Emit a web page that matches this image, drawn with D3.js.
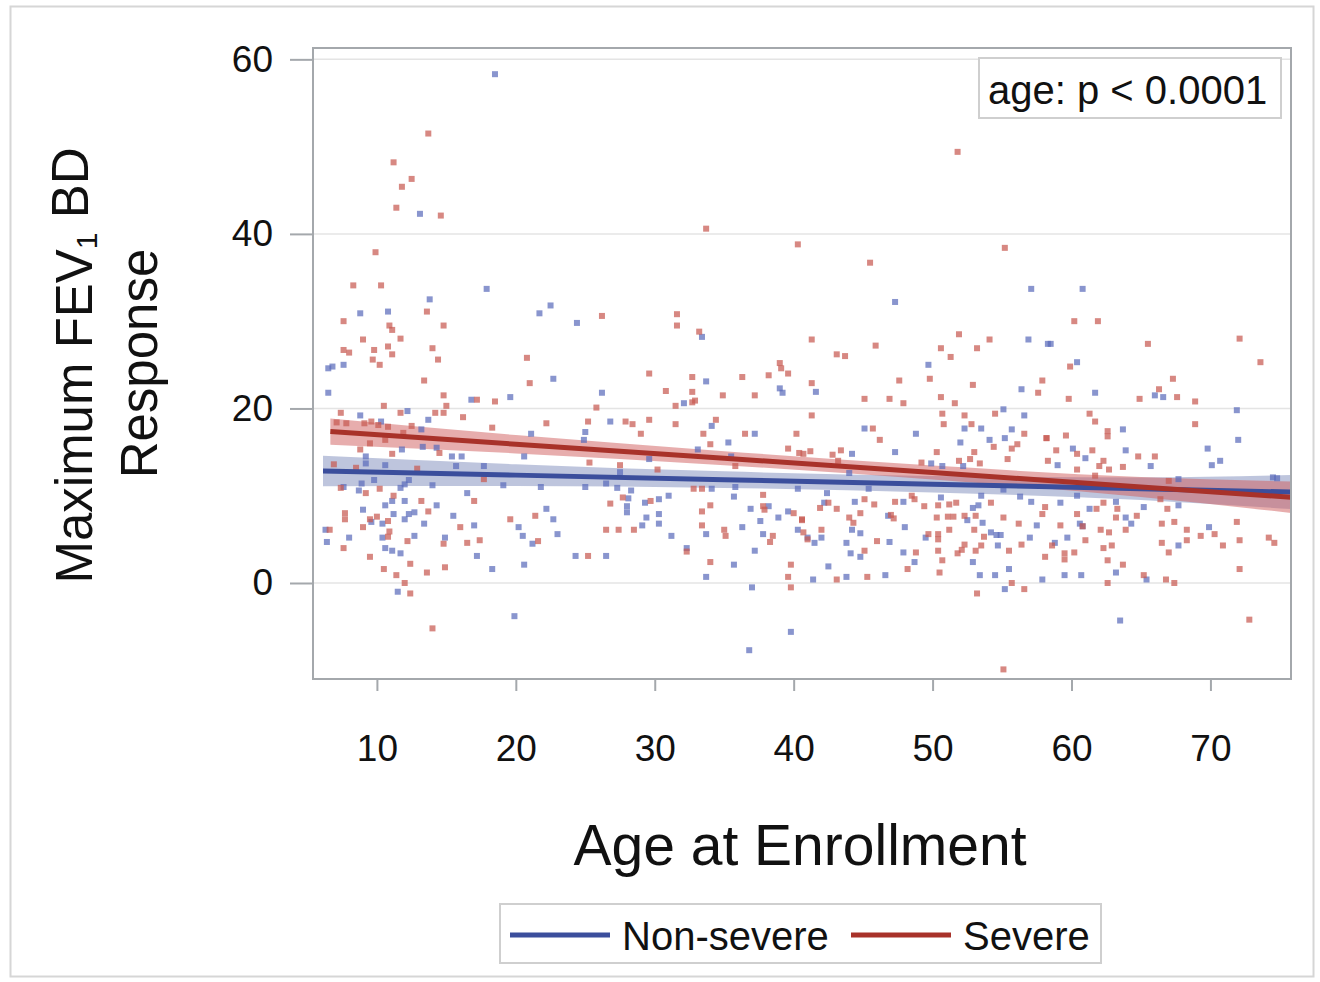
<!DOCTYPE html>
<html>
<head>
<meta charset="utf-8">
<script src="https://cdn.jsdelivr.net/npm/d3@7"></script>
<style>
  body { margin: 0; background: #fff; }
  svg text { font-family: "Liberation Sans", Arial, Helvetica, sans-serif; fill: #111; }
</style>
</head>
<body>
<div id="chart"></div>
<script>
var width  = 1320;
var height = 982;

// Plot area (pixels)
var m = { left: 313, right: 1291, top: 48, bottom: 679 };

// Severe: age at enrollment / max FEV1 BD response
var severeAge = [
  9.9, 8.3, 10.3, 7.6, 10.9, 11.1, 11.7, 9.0, 13.6, 14.8, 7.6, 8.0, 9.8, 10.8, 11.1, 9.7, 10.2, 14.0, 14.4, 13.4,
  14.8, 15.0, 10.5, 7.4, 11.7, 14.2, 14.8, 16.2, 18.5, 17.2, 20.8, 21.0, 22.2, 18.3, 7.1, 7.8, 9.1, 9.6, 10.1, 10.8,
  12.5, 8.8, 9.5, 11.1, 14.5, 11.9, 10.6, 7.4, 9.2, 10.2, 11.2, 13.2, 17.0, 13.7, 7.7, 7.7, 9.0, 9.5, 10.0, 10.8,
  10.9, 10.8, 6.6, 7.6, 9.5, 10.5, 11.4, 12.4, 13.6, 14.9, 14.8, 16.5, 17.4, 16.0, 19.6, 21.4, 21.6, 12.4, 12.0, 12.2,
  17.7, 13.7, 11.2, 12.5, 11.8, 11.4, 14.6, 8.5, 12.9, 6.9, 14.0,
  40.3, 26.2, 31.6, 31.6, 33.2, 29.6, 32.7, 36.3, 38.2, 39.0, 39.1, 39.6, 30.8, 34.9, 37.2, 32.7, 32.7, 32.9, 31.5, 25.8,
  25.2, 27.9, 28.4, 29.6, 31.5, 34.4, 29.0, 33.5, 34.0, 36.5, 40.2, 39.6, 25.3, 27.5, 30.2, 35.8, 40.7, 26.8, 27.7, 29.7,
  32.8, 33.4, 33.4, 34.0, 37.8, 37.8, 37.9, 40.0, 40.6, 26.5, 27.4, 28.5, 33.4, 35.0, 35.1, 38.5, 38.3, 25.2, 34.0, 32.3,
  39.8, 39.6, 39.8, 41.0, 33.7,
  45.5, 55.2, 41.3, 43.1, 43.7, 45.9, 51.9, 54.1, 53.2, 50.6, 51.3, 41.3, 47.6, 49.8, 52.9, 57.9, 57.6, 45.1, 46.9, 47.9,
  50.6, 51.6, 41.3, 50.7, 50.8, 52.3, 52.8, 54.5, 45.7, 46.2, 54.4, 55.7, 56.1, 56.6, 58.2, 55.4, 40.4, 41.2, 42.8, 43.4,
  50.3, 53.0, 51.9, 52.7, 53.4, 43.2, 49.2, 45.1, 45.8, 43.1, 42.5, 41.9, 40.6, 40.7, 44.0, 44.3, 44.8, 47.3, 47.0, 47.2,
  48.5, 48.7, 49.4, 50.3, 50.4, 51.2, 51.7, 51.1, 51.5, 52.3, 53.1, 54.2, 55.1, 56.2, 57.9, 42.0, 45.1, 46.0, 49.7, 50.4,
  50.4, 50.4, 50.7, 51.8, 52.1, 51.2, 53.0, 53.7, 52.3, 53.1, 53.5, 55.5, 56.4, 58.1, 48.8, 48.2, 50.5, 45.3, 43.1, 55.7,
  56.6, 53.2, 51.8, 55.1,
  60.2, 61.9, 72.1, 73.6, 65.5, 59.9, 67.3, 66.3, 59.8, 64.9, 67.6, 68.9, 61.3, 61.7, 68.9, 62.6, 62.6, 58.2, 59.6, 58.9,
  60.4, 61.5, 58.3, 62.3, 60.4, 62.0, 62.7, 63.7, 64.8, 66.0, 61.7, 67.0, 58.1, 61.8, 62.3, 63.3, 63.2, 64.7, 66.4, 66.9,
  60.4, 59.2, 60.8, 62.1, 62.7, 63.9, 66.5, 67.4, 68.3, 69.3, 70.3, 71.9, 72.1, 70.9, 74.2, 74.6, 68.3, 66.5, 67.0, 58.6,
  59.5, 59.5, 61.0, 60.2, 62.3, 62.9, 62.6, 63.7, 72.1, 65.2, 66.8, 67.4, 62.6, 72.8
];
var severeFev = [
  37.9, 34.1, 34.1, 30.0, 29.5, 29.0, 28.0, 27.9, 31.1, 29.5, 26.7, 26.4, 26.7, 27.1, 26.2, 25.6, 25.0, 26.9, 25.6, 23.2,
  21.5, 20.3, 20.3, 19.5, 19.5, 19.5, 19.5, 19.0, 20.8, 21.0, 25.8, 22.9, 18.3, 17.8, 18.4, 18.3, 18.3, 18.5, 18.1, 17.9,
  18.0, 15.3, 16.0, 14.8, 14.9, 17.2, 16.4, 10.9, 10.3, 10.8, 10.0, 9.4, 9.4, 8.2, 8.0, 7.3, 6.4, 7.3, 7.6, 7.1,
  5.9, 5.3, 6.1, 4.0, 3.0, 1.6, 0.9, 2.2, 1.2, 1.8, 4.5, 4.6, 4.9, 6.4, 7.3, 7.7, 4.8, -1.2, 0.0, 4.8,
  11.9, 51.5, 48.2, 46.3, 45.4, 43.0, 42.1, 13.2, 13.1, 13.6, -5.2,
  38.8, 30.6, 30.8, 29.5, 28.8, 24.0, 23.6, 23.6, 23.8, 25.2, 24.6, 24.0, 22.0, 21.5, 21.5, 21.9, 20.7, 20.9, 20.3, 20.1,
  18.5, 18.5, 18.2, 18.7, 18.2, 18.7, 17.1, 17.1, 15.9, 17.1, 17.1, 15.4, 13.8, 13.5, 13.0, 13.4, 14.8, 9.1, 9.8, 9.4,
  10.8, 10.8, 8.2, 8.9, 10.1, 8.8, 8.4, 8.0, 7.2, 6.1, 6.1, 6.1, 6.6, 6.1, 5.4, 5.4, 4.7, 3.1, 2.4, 3.6,
  2.1, 0.7, -0.5, 5.0, 40.6,
  36.7, 38.4, 27.9, 26.2, 26.0, 27.2, 28.5, 27.9, 26.9, 26.9, 25.9, 22.9, 23.2, 23.4, 22.7, 23.2, 21.8, 21.1, 21.1, 20.6,
  21.3, 20.6, 19.2, 19.4, 18.2, 19.2, 18.2, 19.4, 17.7, 16.4, 15.6, 15.4, 15.9, 17.1, 16.6, 14.2, 14.9, 15.1, 14.7, 15.2,
  15.0, 15.0, 14.0, 14.2, 13.7, 14.0, 13.8, 9.6, 9.0, 8.5, 9.2, 8.6, 7.3, 5.8, 7.5, 6.9, 8.0, 9.3, 7.8, 7.4,
  10.0, 9.6, 8.8, 7.5, 8.9, 9.0, 9.2, 7.6, 7.6, 7.7, 7.7, 9.2, 7.5, 6.8, 7.9, 6.1, 3.7, 4.8, 5.6, 5.6,
  5.0, 3.7, 2.6, 3.4, 3.8, 6.1, 6.1, 5.3, 4.4, 3.7, 4.3, 3.7, 4.4, 3.0, 3.5, 1.6, 1.2, 0.7, 0.4, 0.0,
  -0.7, -1.2, 49.4, -9.9,
  30.0, 30.0, 28.0, 25.3, 27.4, 24.8, 23.4, 22.2, 21.1, 21.1, 21.3, 20.8, 19.4, 18.5, 18.2, 17.4, 16.8, 16.6, 16.9, 15.2,
  14.8, 15.2, 14.0, 14.0, 13.0, 13.4, 13.0, 13.3, 14.5, 14.5, 12.3, 11.7, 8.7, 8.5, 9.2, 8.5, 7.5, 7.7, 9.6, 8.5,
  7.9, 6.6, 6.5, 6.1, 5.8, 6.1, 6.8, 7.0, 6.1, 5.4, 5.6, 7.0, 4.9, 4.3, 5.2, 4.6, 4.9, 4.6, 3.5, 4.3,
  3.4, 2.7, 4.9, 3.5, 4.0, 4.3, 2.6, 2.1, 1.6, 0.9, 0.4, 0.0, 0.0, -4.2
];

// Non-severe
var nonSevereAge = [
  6.5, 6.8, 7.6, 6.5, 8.8, 10.8, 13.8, 17.9, 21.7, 22.5, 22.7, 19.6, 16.8, 8.8, 10.3, 12.2, 13.7, 13.2, 11.8, 13.3,
  14.3, 15.4, 16.1, 15.7, 9.2, 9.2, 10.6, 9.8, 12.3, 8.9, 7.6, 8.7, 11.7, 12.0, 14.0, 17.7, 19.1, 20.6, 21.1, 21.8,
  16.5, 10.6, 11.1, 12.0, 11.2, 12.0, 12.3, 12.7, 9.0, 14.3, 13.4, 15.5, 17.0, 10.4, 9.6, 6.3, 6.4, 8.0, 10.4, 12.7,
  14.9, 10.6, 11.1, 11.7, 17.2, 18.3, 20.6, 20.2, 20.5, 21.2, 22.2, 22.7, 23.0, 11.5, 18.5, 13.1, 19.9, 36.8, 39.8, 63.5,
  24.4, 26.2, 33.4, 33.7, 39.0, 39.2, 32.1, 26.8, 25.0, 24.9, 34.1, 35.3, 37.2, 33.1, 29.6, 27.5, 35.5, 25.0, 26.5, 27.3,
  28.3, 28.1, 28.0, 28.0, 29.3, 30.3, 31.0, 34.1, 35.8, 35.7, 38.2, 36.9, 29.4, 29.1, 30.3, 30.3, 31.2, 33.7, 36.3, 37.6,
  37.8, 38.9, 39.6, 40.3, 40.3, 24.3, 26.5, 32.3, 37.2, 35.7, 33.7, 37.0,
  47.3, 57.1, 56.9, 58.3, 49.7, 41.6, 56.4, 45.1, 48.8, 52.3, 53.5, 55.1, 56.6, 55.7, 55.2, 54.1, 52.0, 44.2, 47.3, 49.9,
  50.7, 52.2, 44.0, 45.4, 42.4, 44.4, 47.9, 50.6, 53.5, 55.1, 56.3, 57.1, 42.2, 52.5, 52.9, 53.3, 46.8, 48.0, 44.2, 44.8,
  41.0, 41.5, 42.0, 43.8, 46.9, 49.5, 53.6, 54.2, 54.6, 54.9, 54.7, 57.0, 57.5, 44.1, 44.8, 47.9, 48.7, 52.9, 55.5, 42.5,
  46.6, 43.8, 41.4, 53.4, 54.5, 55.2, 57.9,
  60.8, 58.5, 60.4, 61.7, 66.0, 66.6, 71.9, 72.0, 63.7, 60.1, 61.0, 63.9, 59.0, 65.7, 69.8, 70.1, 70.7, 74.5, 67.7, 60.4,
  59.2, 61.3, 63.2, 65.2, 63.9, 64.3, 60.6, 60.8, 59.7, 58.8, 67.7, 69.9, 67.7, 59.5, 60.7, 63.2, 65.4, 74.8
];
var nonSevereFev = [
  24.6, 24.8, 25.0, 21.8, 30.9, 31.1, 32.5, 33.7, 30.9, 31.8, 23.4, 21.3, 21.0, 19.2, 18.5, 19.7, 18.7, 17.6, 15.3, 15.6,
  15.5, 14.5, 14.5, 13.4, 14.5, 13.7, 13.5, 11.8, 11.8, 11.4, 11.0, 10.6, 10.9, 11.3, 11.2, 13.4, 11.2, 14.5, 17.1, 11.0,
  10.3, 8.9, 9.4, 9.4, 7.9, 7.3, 7.9, 8.1, 8.4, 8.9, 6.8, 7.7, 6.6, 6.8, 7.0, 6.1, 4.7, 5.2, 5.2, 5.4,
  5.2, 4.0, 3.7, 3.4, 3.1, 1.6, 2.1, 6.4, 5.4, 4.5, 8.5, 7.3, 5.6, -1.0, 58.3, 42.3, -3.8, -7.7, -5.6, -4.3,
  29.8, 21.8, 28.2, 23.1, 22.3, 21.8, 20.6, 18.5, 17.3, 16.4, 18.0, 16.1, 17.1, 15.3, 14.2, 12.7, 14.5, 11.0, 11.4, 10.9,
  10.6, 9.7, 8.8, 8.1, 9.2, 9.6, 10.0, 10.8, 11.0, 9.9, 8.8, 8.5, 7.5, 6.6, 7.9, 6.8, 5.4, 5.6, 6.4, 7.1,
  5.6, 7.5, 8.2, 6.1, 10.8, 3.1, 3.1, 4.0, 3.7, 2.1, 0.7, -0.5,
  32.2, 33.7, 27.9, 27.4, 25.0, 21.9, 22.2, 17.7, 17.1, 17.7, 17.7, 19.9, 19.2, 17.6, 16.6, 16.4, 16.1, 14.8, 15.0, 13.7,
  13.4, 13.4, 12.6, 10.8, 10.3, 9.3, 9.3, 9.8, 10.0, 10.7, 9.9, 9.3, 9.2, 7.2, 8.6, 8.9, 7.7, 6.4, 6.1, 5.7,
  5.2, 4.6, 5.2, 4.6, 4.7, 5.2, 6.9, 5.8, 5.5, 5.5, 4.3, 5.2, 6.6, 3.4, 3.0, 3.5, 2.4, 2.4, 1.6, 1.9,
  0.9, 0.7, 0.4, 0.9, 0.9, -0.7, 0.4,
  33.7, 27.4, 25.3, 21.8, 21.5, 21.3, 19.8, 16.4, 17.6, 15.4, 14.3, 15.2, 13.5, 13.4, 15.4, 13.5, 14.0, 12.1, 11.9, 10.0,
  9.2, 8.5, 9.3, 8.7, 7.5, 6.8, 6.8, 6.5, 5.2, 4.6, 4.3, 6.4, 8.9, 0.9, 0.9, 1.2, 0.4, 12.0
];

// Fitted lines with 95% confidence limits, read at a few ages
var sevFitAge   = [6.65, 20, 35, 50, 65, 75.8];
var sevFitMean  = [17.35, 15.9, 14.3, 12.65, 11.0, 9.83];
var sevFitLower = [15.85, 14.85, 13.5, 11.85, 9.85, 8.03];
var sevFitUpper = [18.85, 16.95, 15.1, 13.45, 12.15, 11.63];

var nonFitAge   = [6.12, 20, 35, 50, 65, 75.8];
var nonFitMean  = [12.84, 12.36, 11.84, 11.32, 10.8, 10.42];
var nonFitLower = [11.09, 11.11, 10.89, 10.37, 9.5, 8.47];
var nonFitUpper = [14.59, 13.61, 12.79, 12.27, 12.1, 12.37];

var xTicks = [10, 20, 30, 40, 50, 60, 70];
var yTicks = [0, 20, 40, 60];

var colors = {
  non: { line: '#3b4e9c', band: '#6f7eb3', dot: '#5b6cbb' },
  sev: { line: '#a8322a', band: '#d05b5b', dot: '#c75a52' }
};

var x = d3.scaleLinear().domain([5.4, 75.8]).range([m.left, m.right]);
var y = d3.scaleLinear().domain([-11, 61.3]).range([m.bottom, m.top]);

var svg = d3.select('#chart')
            .append('svg')
            .attr('width', width)
            .attr('height', height);

// Outer border
svg.append('rect')
   .attr('x', 10.5).attr('y', 6.5)
   .attr('width', 1303).attr('height', 970)
   .style('fill', 'none')
   .style('stroke', '#d6d6d6')
   .style('stroke-width', 2);

svg.append('defs').append('clipPath').attr('id', 'clip')
   .append('rect')
   .attr('x', m.left).attr('y', m.top)
   .attr('width', m.right - m.left).attr('height', m.bottom - m.top);

// Grid lines
svg.append('g').selectAll('line')
   .data(yTicks)
   .enter().append('line')
   .attr('x1', m.left).attr('x2', m.right)
   .attr('y1', function(d) { return y(d); })
   .attr('y2', function(d) { return y(d); })
   .style('stroke', '#e4e4e4')
   .style('stroke-width', 1.5);

// Axes
var yAxis = svg.append('g')
   .attr('transform', 'translate(' + m.left + ',0)')
   .call(d3.axisLeft(y).tickValues(yTicks).tickSize(23).tickPadding(17));
var xAxis = svg.append('g')
   .attr('transform', 'translate(0,' + m.bottom + ')')
   .call(d3.axisBottom(x).tickValues(xTicks).tickSize(12).tickPadding(44));

[xAxis, yAxis].forEach(function(a) {
  a.select('.domain').remove();
  a.selectAll('line').style('stroke', '#a4a8ac').style('stroke-width', 2);
  a.selectAll('text').style('font-size', '37px').style('fill', '#111');
});

var plot = svg.append('g').attr('clip-path', 'url(#clip)');

function band(ages, lower, upper) {
  return d3.area()
           .x(function(d, i) { return x(ages[i]); })
           .y0(function(d, i) { return y(lower[i]); })
           .y1(function(d, i) { return y(upper[i]); })
           .curve(d3.curveMonotoneX)(ages);
}

plot.append('path')
    .attr('d', band(nonFitAge, nonFitLower, nonFitUpper))
    .style('fill', colors.non.band)
    .style('opacity', 0.45);
plot.append('path')
    .attr('d', band(sevFitAge, sevFitLower, sevFitUpper))
    .style('fill', colors.sev.band)
    .style('opacity', 0.5);

// Scatter points
function dots(ages, fev, c) {
  plot.append('g').selectAll('rect')
      .data(ages)
      .enter().append('rect')
      .attr('x', function(d) { return x(d) - 3; })
      .attr('y', function(d, i) { return y(fev[i]) - 3; })
      .attr('width', 6).attr('height', 6)
      .style('fill', c)
      .style('opacity', 0.72);
}
dots(nonSevereAge, nonSevereFev, colors.non.dot);
dots(severeAge, severeFev, colors.sev.dot);

// Fit lines
function fitLine(ages, mean, c) {
  plot.append('path')
      .attr('d', d3.line()
                   .x(function(d, i) { return x(ages[i]); })
                   .y(function(d, i) { return y(mean[i]); })(ages))
      .style('fill', 'none')
      .style('stroke', c)
      .style('stroke-width', 5);
}
fitLine(nonFitAge, nonFitMean, colors.non.line);
fitLine(sevFitAge, sevFitMean, colors.sev.line);

// Plot frame
svg.append('rect')
   .attr('x', m.left).attr('y', m.top)
   .attr('width', m.right - m.left).attr('height', m.bottom - m.top)
   .style('fill', 'none')
   .style('stroke', '#a4a8ac')
   .style('stroke-width', 2);

// Axis titles
svg.append('text')
   .attr('x', (m.left + m.right) / 2 - 2)
   .attr('y', 865)
   .attr('text-anchor', 'middle')
   .style('font-size', '57px')
   .text('Age at Enrollment');

var yt = svg.append('text')
   .attr('transform', 'translate(92,' + ((m.top + m.bottom) / 2 + 2) + ')rotate(-90)')
   .attr('text-anchor', 'middle')
   .style('font-size', '51px');
yt.append('tspan').text('Maximum FEV');
yt.append('tspan').attr('dy', '0.18em').style('font-size', '30px').text('1');
yt.append('tspan').attr('dy', '-0.18em').text(' BD');

svg.append('text')
   .attr('transform', 'translate(157,' + ((m.top + m.bottom) / 2) + ')rotate(-90)')
   .attr('text-anchor', 'middle')
   .style('font-size', '51px')
   .text('Response');

// p-value inset
svg.append('rect')
   .attr('x', 979).attr('y', 58).attr('width', 302).attr('height', 60)
   .style('fill', '#fff')
   .style('stroke', '#cfcfcf')
   .style('stroke-width', 2);
svg.append('text')
   .attr('x', 988).attr('y', 104)
   .style('font-size', '40px')
   .text('age: p < 0.0001');

// Legend
var legendItems = [
  { label: 'Non-severe', c: colors.non.line, x: 510 },
  { label: 'Severe', c: colors.sev.line, x: 851 }
];
svg.append('rect')
   .attr('x', 500).attr('y', 904).attr('width', 601).attr('height', 59)
   .style('fill', '#fff')
   .style('stroke', '#cfcfcf')
   .style('stroke-width', 2);
var lg = svg.append('g').selectAll('g')
   .data(legendItems)
   .enter().append('g');
lg.append('line')
  .attr('x1', function(d) { return d.x; })
  .attr('x2', function(d) { return d.x + 100; })
  .attr('y1', 935).attr('y2', 935)
  .style('stroke', function(d) { return d.c; })
  .style('stroke-width', 5);
lg.append('text')
  .attr('x', function(d) { return d.x + 112; })
  .attr('y', 950)
  .style('font-size', '40px')
  .text(function(d) { return d.label; });
</script>
</body>
</html>
